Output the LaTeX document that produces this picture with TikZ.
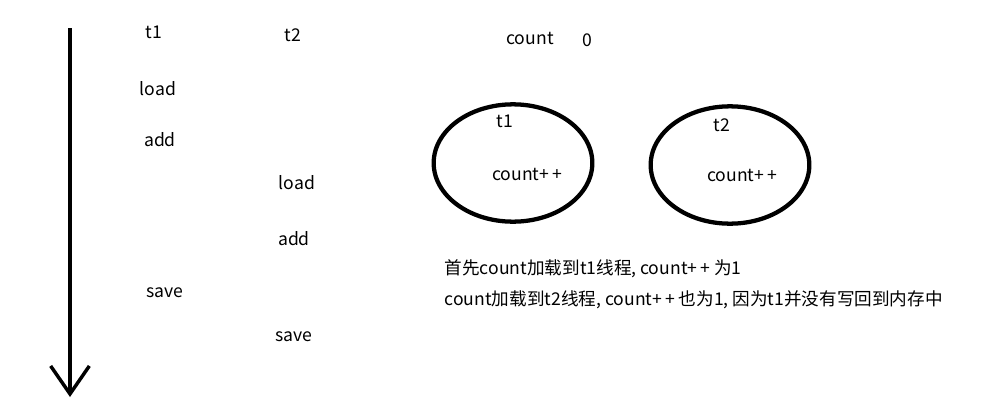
\documentclass[tikz,border=0pt]{standalone}
\usepackage{fontspec}
\setmainfont{Noto Sans CJK SC}
\usepackage{tikz}
\usetikzlibrary{arrows.meta, positioning, shapes.geometric}

\begin{document}
\begin{tikzpicture}[x=0.75pt, y=-0.75pt, font=\fontsize{13.2}{15}\selectfont,
		thread/.style={draw, ellipse, line width=3.2pt, minimum width=119pt, minimum height=88pt}]
		\useasboundingbox (0,0) rectangle (982,418);
		% time axis
		\coordinate (start) at (70,28);
		\coordinate (end)   at (70,397);
		\draw[line width=3pt, -{Straight Barb[length=21pt, width=29pt, line width=2.6pt]}] (start) -- (end);

		% steps of the two threads
		\node (t1)     at (154,32)  {t1};
		\node (t2)     at (293,35)  {t2};
		\node (load1)  at (158,89)  {load};
		\node (add1)   at (160,140) {add};
		\node (load2)  at (297,183) {load};
		\node (add2)   at (294,239) {add};
		\node (save1)  at (165,293) {save};
		\node (save2)  at (294,337) {save};

		% shared variable
		\node (count)  at (530,38)  {count};
		\node (zero)   at (587,40)  {0};

		\node[thread] (e1) at (513,163) {};
		\node[thread] (e2) at (730,165) {};
		\node (e1name) at (505,121) {t1};
		\node (e1op)   at (527,174) {count+\,+};
		\node (e2name) at (722,125) {t2};
		\node (e2op)   at (742,175) {count+\,+};

		\node[anchor=west] (line1) at (440,269) {首先count加载到t1线程, count+\,+ 为1};
		\node[anchor=west] (line2) at (440,300) {count加载到t2线程, count+\,+ 也为1, 因为t1并没有写回到内存中};
	\end{tikzpicture}
\end{document}
